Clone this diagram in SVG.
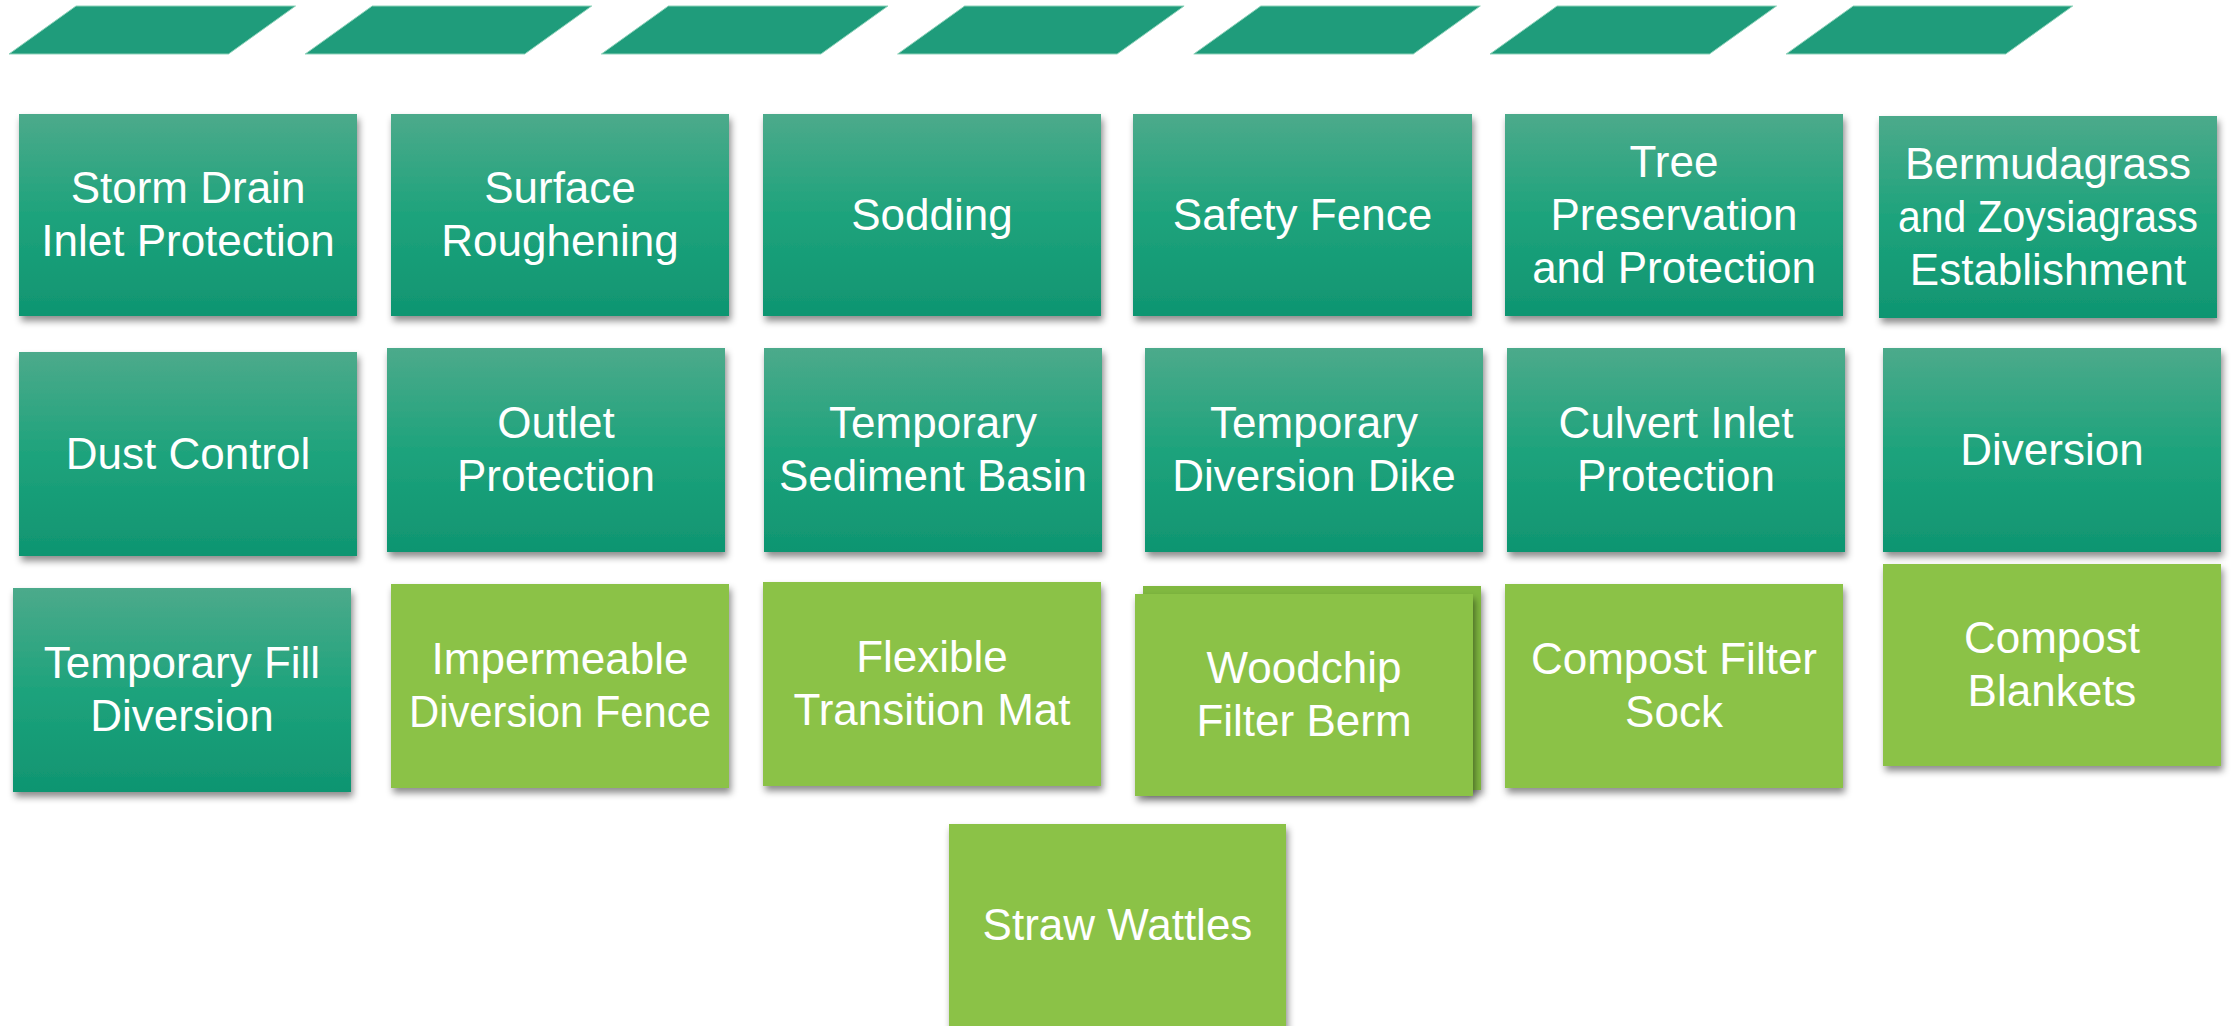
<svg xmlns="http://www.w3.org/2000/svg" width="2236" height="1026" viewBox="0 0 2236 1026">
<defs>
<linearGradient id="teal" x1="0" y1="0" x2="0" y2="1">
<stop offset="0" stop-color="#4caa8b"/>
<stop offset="0.5" stop-color="#1ea37c"/>
<stop offset="1" stop-color="#0f9571"/>
</linearGradient>
<filter id="sh" x="-10%" y="-10%" width="125%" height="130%">
<feDropShadow dx="2" dy="5" stdDeviation="3.5" flood-color="#000" flood-opacity="0.45"/>
</filter>
</defs>
<style>
.hdr{fill:#1f9c7b;stroke:#8fd3bb;stroke-width:1}
.t{fill:url(#teal);filter:url(#sh)}
.g{fill:#8bc247;filter:url(#sh)}
.gb{fill:#80b840;filter:url(#sh)}
text{font-family:"Liberation Sans",Arial,sans-serif;font-size:44px;fill:#ffffff;text-anchor:middle}
</style>
<rect width="2236" height="1026" fill="#ffffff"/>
<g id="headers">
<polygon class="hdr" points="76,6 295.5,6 228.5,54 9,54"/>
<polygon class="hdr" points="372.2,6 591.7,6 524.7,54 305.2,54"/>
<polygon class="hdr" points="668.4,6 887.9,6 820.9,54 601.4,54"/>
<polygon class="hdr" points="964.6,6 1184.1,6 1117.1,54 897.6,54"/>
<polygon class="hdr" points="1260.8,6 1480.3,6 1413.3,54 1193.8,54"/>
<polygon class="hdr" points="1557,6 1776.5,6 1709.5,54 1490,54"/>
<polygon class="hdr" points="1853.2,6 2072.7,6 2005.7,54 1786.2,54"/>
</g>
<g id="connectors"/>
<g id="n1"><rect class="t" x="19" y="114" width="338" height="202"/><text x="188" y="203">Storm Drain</text><text x="188" y="256">Inlet Protection</text></g>
<g id="n2"><rect class="t" x="391" y="114" width="338" height="202"/><text x="560" y="203">Surface</text><text x="560" y="256">Roughening</text></g>
<g id="n3"><rect class="t" x="763" y="114" width="338" height="202"/><text x="932" y="229.5">Sodding</text></g>
<g id="n4"><rect class="t" x="1133" y="114" width="339" height="202"/><text x="1302.5" y="229.5">Safety Fence</text></g>
<g id="n5"><rect class="t" x="1505" y="114" width="338" height="202"/><text x="1674" y="176.5">Tree</text><text x="1674" y="229.5">Preservation</text><text x="1674" y="282.5">and Protection</text></g>
<g id="n6"><rect class="t" x="1879" y="116" width="338" height="202"/><text x="2048" y="178.5">Bermudagrass</text><text x="2048" y="231.5" textLength="300" lengthAdjust="spacingAndGlyphs">and Zoysiagrass</text><text x="2048" y="284.5">Establishment</text></g>
<g id="n7"><rect class="t" x="19" y="352" width="338" height="204"/><text x="188" y="468.5">Dust Control</text></g>
<g id="n8"><rect class="t" x="387" y="348" width="338" height="204"/><text x="556" y="438">Outlet</text><text x="556" y="491">Protection</text></g>
<g id="n9"><rect class="t" x="764" y="348" width="338" height="204"/><text x="933" y="438">Temporary</text><text x="933" y="491">Sediment Basin</text></g>
<g id="n10"><rect class="t" x="1145" y="348" width="338" height="204"/><text x="1314" y="438">Temporary</text><text x="1314" y="491">Diversion Dike</text></g>
<g id="n11"><rect class="t" x="1507" y="348" width="338" height="204"/><text x="1676" y="438">Culvert Inlet</text><text x="1676" y="491">Protection</text></g>
<g id="n12"><rect class="t" x="1883" y="348" width="338" height="204"/><text x="2052" y="464.5">Diversion</text></g>
<g id="n13"><rect class="t" x="13" y="588" width="338" height="204"/><text x="182" y="678">Temporary Fill</text><text x="182" y="731">Diversion</text></g>
<g id="n14"><rect class="g" x="391" y="584" width="338" height="204"/><text x="560" y="674">Impermeable</text><text x="560" y="727" textLength="302" lengthAdjust="spacingAndGlyphs">Diversion Fence</text></g>
<g id="n15"><rect class="g" x="763" y="582" width="338" height="204"/><text x="932" y="672">Flexible</text><text x="932" y="725">Transition Mat</text></g>
<g id="n16"><rect class="gb" x="1143" y="586" width="338" height="204"/><rect class="g" x="1135" y="594" width="338" height="202"/><text x="1304" y="683">Woodchip</text><text x="1304" y="736">Filter Berm</text></g>
<g id="n17"><rect class="g" x="1505" y="584" width="338" height="204"/><text x="1674" y="674">Compost Filter</text><text x="1674" y="727">Sock</text></g>
<g id="n18"><rect class="g" x="1883" y="564" width="338" height="202"/><text x="2052" y="653">Compost</text><text x="2052" y="706">Blankets</text></g>
<g id="n19"><rect class="g" x="949" y="824" width="337" height="204"/><text x="1117.5" y="939.5">Straw Wattles</text></g>
</svg>
